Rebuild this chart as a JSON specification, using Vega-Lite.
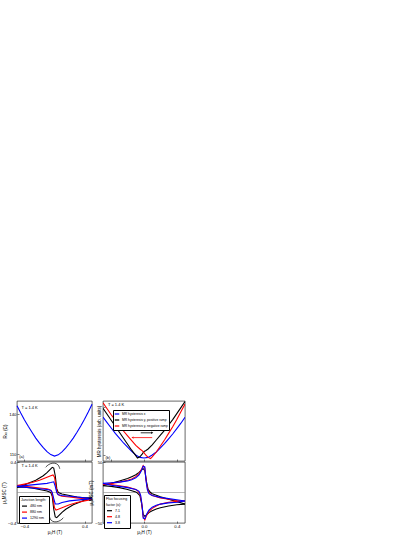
{
  "$schema": "https://vega.github.io/schema/vega-lite/v6.json",
  "padding": {"left": 0, "top": 400, "right": 5, "bottom": 2},
  "background": "white",
  "config": {
    "font": "Liberation Sans",
    "view": {"stroke": "black", "strokeWidth": 0.6},
    "axis": {"grid": false, "domain": false, "tickSize": -2, "tickColor": "black", "tickWidth": 0.5, "labelFontSize": 4.3, "labelColor": "black", "titleFontSize": 4.5, "titleColor": "black", "titleFontWeight": "normal", "labelPadding": 3, "titlePadding": 1.5, "labelOverlap": false, "labelFlush": false, "labelBound": false},
    "legend": {"labelFontSize": 4, "titleFontSize": 4, "titleFontWeight": "normal", "symbolType": "stroke", "symbolSize": 30, "symbolStrokeWidth": 1.2, "rowPadding": 0, "titlePadding": 1, "padding": 2, "fillColor": "white", "strokeColor": "black", "labelColor": "black", "titleColor": "black", "symbolOffset": 0, "labelOffset": 2}
  },
  "datasets": {
    "pa": [
      {"h": -0.5, "r": 146.5}, {"h": -0.45, "r": 141}, {"h": -0.4, "r": 135.8}, {"h": -0.35, "r": 131}, {"h": -0.3, "r": 126.5}, {"h": -0.25, "r": 122.2}, {"h": -0.2, "r": 118.4}, {"h": -0.15, "r": 115}, {"h": -0.1, "r": 112}, {"h": -0.05, "r": 109.8}, {"h": 0, "r": 108.7}, {"h": 0.05, "r": 109.6}, {"h": 0.1, "r": 111.8}, {"h": 0.15, "r": 114.8}, {"h": 0.2, "r": 118.3}, {"h": 0.25, "r": 122.2}, {"h": 0.3, "r": 126.6}, {"h": 0.35, "r": 131.3}, {"h": 0.4, "r": 136.3}, {"h": 0.45, "r": 141.7}, {"h": 0.5, "r": 147.5}
    ],
    "pb": [
      {"h": -0.5, "v": 0.73, "s": "MR hysteresis x"}, {"h": -0.45, "v": 0.64, "s": "MR hysteresis x"}, {"h": -0.4, "v": 0.55, "s": "MR hysteresis x"}, {"h": -0.35, "v": 0.46, "s": "MR hysteresis x"}, {"h": -0.3, "v": 0.38, "s": "MR hysteresis x"}, {"h": -0.25, "v": 0.3, "s": "MR hysteresis x"}, {"h": -0.2, "v": 0.23, "s": "MR hysteresis x"}, {"h": -0.15, "v": 0.16, "s": "MR hysteresis x"}, {"h": -0.1, "v": 0.1, "s": "MR hysteresis x"}, {"h": -0.05, "v": 0.06, "s": "MR hysteresis x"}, {"h": 0, "v": 0.05, "s": "MR hysteresis x"}, {"h": 0.05, "v": 0.06, "s": "MR hysteresis x"}, {"h": 0.1, "v": 0.1, "s": "MR hysteresis x"}, {"h": 0.15, "v": 0.15, "s": "MR hysteresis x"}, {"h": 0.2, "v": 0.22, "s": "MR hysteresis x"}, {"h": 0.25, "v": 0.29, "s": "MR hysteresis x"}, {"h": 0.3, "v": 0.37, "s": "MR hysteresis x"}, {"h": 0.35, "v": 0.45, "s": "MR hysteresis x"}, {"h": 0.4, "v": 0.54, "s": "MR hysteresis x"}, {"h": 0.45, "v": 0.63, "s": "MR hysteresis x"}, {"h": 0.5, "v": 0.73, "s": "MR hysteresis x"},
      {"h": -0.5, "v": 0.88, "s": "MR hysteresis y, positive ramp"}, {"h": -0.45, "v": 0.78, "s": "MR hysteresis y, positive ramp"}, {"h": -0.4, "v": 0.68, "s": "MR hysteresis y, positive ramp"}, {"h": -0.35, "v": 0.58, "s": "MR hysteresis y, positive ramp"}, {"h": -0.3, "v": 0.48, "s": "MR hysteresis y, positive ramp"}, {"h": -0.25, "v": 0.38, "s": "MR hysteresis y, positive ramp"}, {"h": -0.2, "v": 0.28, "s": "MR hysteresis y, positive ramp"}, {"h": -0.15, "v": 0.18, "s": "MR hysteresis y, positive ramp"}, {"h": -0.1, "v": 0.09, "s": "MR hysteresis y, positive ramp"}, {"h": -0.08, "v": 0.05, "s": "MR hysteresis y, positive ramp"}, {"h": -0.05, "v": 0.07, "s": "MR hysteresis y, positive ramp"}, {"h": -0.02, "v": 0.12, "s": "MR hysteresis y, positive ramp"}, {"h": 0, "v": 0.16, "s": "MR hysteresis y, positive ramp"}, {"h": 0.02, "v": 0.17, "s": "MR hysteresis y, positive ramp"}, {"h": 0.05, "v": 0.2, "s": "MR hysteresis y, positive ramp"}, {"h": 0.1, "v": 0.27, "s": "MR hysteresis y, positive ramp"}, {"h": 0.15, "v": 0.35, "s": "MR hysteresis y, positive ramp"}, {"h": 0.2, "v": 0.43, "s": "MR hysteresis y, positive ramp"}, {"h": 0.25, "v": 0.51, "s": "MR hysteresis y, positive ramp"}, {"h": 0.3, "v": 0.6, "s": "MR hysteresis y, positive ramp"}, {"h": 0.35, "v": 0.69, "s": "MR hysteresis y, positive ramp"}, {"h": 0.4, "v": 0.79, "s": "MR hysteresis y, positive ramp"}, {"h": 0.45, "v": 0.89, "s": "MR hysteresis y, positive ramp"}, {"h": 0.5, "v": 0.99, "s": "MR hysteresis y, positive ramp"},
      {"h": -0.5, "v": 0.97, "s": "MR hysteresis y, negative ramp"}, {"h": -0.45, "v": 0.87, "s": "MR hysteresis y, negative ramp"}, {"h": -0.4, "v": 0.77, "s": "MR hysteresis y, negative ramp"}, {"h": -0.35, "v": 0.68, "s": "MR hysteresis y, negative ramp"}, {"h": -0.3, "v": 0.59, "s": "MR hysteresis y, negative ramp"}, {"h": -0.25, "v": 0.5, "s": "MR hysteresis y, negative ramp"}, {"h": -0.2, "v": 0.42, "s": "MR hysteresis y, negative ramp"}, {"h": -0.15, "v": 0.34, "s": "MR hysteresis y, negative ramp"}, {"h": -0.1, "v": 0.26, "s": "MR hysteresis y, negative ramp"}, {"h": -0.05, "v": 0.2, "s": "MR hysteresis y, negative ramp"}, {"h": -0.02, "v": 0.17, "s": "MR hysteresis y, negative ramp"}, {"h": 0, "v": 0.14, "s": "MR hysteresis y, negative ramp"}, {"h": 0.02, "v": 0.1, "s": "MR hysteresis y, negative ramp"}, {"h": 0.05, "v": 0.06, "s": "MR hysteresis y, negative ramp"}, {"h": 0.08, "v": 0.04, "s": "MR hysteresis y, negative ramp"}, {"h": 0.1, "v": 0.07, "s": "MR hysteresis y, negative ramp"}, {"h": 0.15, "v": 0.15, "s": "MR hysteresis y, negative ramp"}, {"h": 0.2, "v": 0.25, "s": "MR hysteresis y, negative ramp"}, {"h": 0.25, "v": 0.35, "s": "MR hysteresis y, negative ramp"}, {"h": 0.3, "v": 0.46, "s": "MR hysteresis y, negative ramp"}, {"h": 0.35, "v": 0.57, "s": "MR hysteresis y, negative ramp"}, {"h": 0.4, "v": 0.69, "s": "MR hysteresis y, negative ramp"}, {"h": 0.45, "v": 0.82, "s": "MR hysteresis y, negative ramp"}, {"h": 0.5, "v": 0.95, "s": "MR hysteresis y, negative ramp"}
    ],
    "pc": [
      {"h": -0.5, "m": 0.07, "s": "480 nm", "b": "A"}, {"h": -0.45, "m": 0.08, "s": "480 nm", "b": "A"}, {"h": -0.4, "m": 0.1, "s": "480 nm", "b": "A"}, {"h": -0.35, "m": 0.12, "s": "480 nm", "b": "A"}, {"h": -0.3, "m": 0.14, "s": "480 nm", "b": "A"}, {"h": -0.25, "m": 0.16, "s": "480 nm", "b": "A"}, {"h": -0.2, "m": 0.19, "s": "480 nm", "b": "A"}, {"h": -0.15, "m": 0.22, "s": "480 nm", "b": "A"}, {"h": -0.1, "m": 0.26, "s": "480 nm", "b": "A"}, {"h": -0.06, "m": 0.3, "s": "480 nm", "b": "A"}, {"h": -0.03, "m": 0.33, "s": "480 nm", "b": "A"}, {"h": -0.01, "m": 0.32, "s": "480 nm", "b": "A"}, {"h": 0.01, "m": 0.22, "s": "480 nm", "b": "A"}, {"h": 0.03, "m": 0.05, "s": "480 nm", "b": "A"}, {"h": 0.05, "m": 0.0, "s": "480 nm", "b": "A"}, {"h": 0.1, "m": -0.02, "s": "480 nm", "b": "A"}, {"h": 0.15, "m": -0.03, "s": "480 nm", "b": "A"}, {"h": 0.2, "m": -0.04, "s": "480 nm", "b": "A"}, {"h": 0.3, "m": -0.06, "s": "480 nm", "b": "A"}, {"h": 0.4, "m": -0.07, "s": "480 nm", "b": "A"}, {"h": 0.5, "m": -0.07, "s": "480 nm", "b": "A"},
      {"h": -0.5, "m": 0.07, "s": "480 nm", "b": "B"}, {"h": -0.4, "m": 0.07, "s": "480 nm", "b": "B"}, {"h": -0.3, "m": 0.06, "s": "480 nm", "b": "B"}, {"h": -0.2, "m": 0.04, "s": "480 nm", "b": "B"}, {"h": -0.15, "m": 0.03, "s": "480 nm", "b": "B"}, {"h": -0.1, "m": 0.02, "s": "480 nm", "b": "B"}, {"h": -0.05, "m": 0.0, "s": "480 nm", "b": "B"}, {"h": -0.03, "m": -0.05, "s": "480 nm", "b": "B"}, {"h": -0.01, "m": -0.22, "s": "480 nm", "b": "B"}, {"h": 0.01, "m": -0.32, "s": "480 nm", "b": "B"}, {"h": 0.03, "m": -0.33, "s": "480 nm", "b": "B"}, {"h": 0.06, "m": -0.3, "s": "480 nm", "b": "B"}, {"h": 0.1, "m": -0.26, "s": "480 nm", "b": "B"}, {"h": 0.15, "m": -0.22, "s": "480 nm", "b": "B"}, {"h": 0.2, "m": -0.19, "s": "480 nm", "b": "B"}, {"h": 0.25, "m": -0.16, "s": "480 nm", "b": "B"}, {"h": 0.3, "m": -0.14, "s": "480 nm", "b": "B"}, {"h": 0.35, "m": -0.12, "s": "480 nm", "b": "B"}, {"h": 0.4, "m": -0.1, "s": "480 nm", "b": "B"}, {"h": 0.45, "m": -0.08, "s": "480 nm", "b": "B"}, {"h": 0.5, "m": -0.07, "s": "480 nm", "b": "B"},
      {"h": -0.5, "m": 0.09, "s": "880 nm", "b": "A"}, {"h": -0.4, "m": 0.11, "s": "880 nm", "b": "A"}, {"h": -0.3, "m": 0.13, "s": "880 nm", "b": "A"}, {"h": -0.2, "m": 0.16, "s": "880 nm", "b": "A"}, {"h": -0.15, "m": 0.18, "s": "880 nm", "b": "A"}, {"h": -0.1, "m": 0.2, "s": "880 nm", "b": "A"}, {"h": -0.05, "m": 0.22, "s": "880 nm", "b": "A"}, {"h": -0.02, "m": 0.23, "s": "880 nm", "b": "A"}, {"h": 0.0, "m": 0.2, "s": "880 nm", "b": "A"}, {"h": 0.02, "m": 0.08, "s": "880 nm", "b": "A"}, {"h": 0.04, "m": -0.02, "s": "880 nm", "b": "A"}, {"h": 0.07, "m": -0.04, "s": "880 nm", "b": "A"}, {"h": 0.1, "m": -0.05, "s": "880 nm", "b": "A"}, {"h": 0.2, "m": -0.06, "s": "880 nm", "b": "A"}, {"h": 0.3, "m": -0.07, "s": "880 nm", "b": "A"}, {"h": 0.4, "m": -0.08, "s": "880 nm", "b": "A"}, {"h": 0.5, "m": -0.09, "s": "880 nm", "b": "A"},
      {"h": -0.5, "m": 0.09, "s": "880 nm", "b": "B"}, {"h": -0.4, "m": 0.08, "s": "880 nm", "b": "B"}, {"h": -0.3, "m": 0.07, "s": "880 nm", "b": "B"}, {"h": -0.2, "m": 0.06, "s": "880 nm", "b": "B"}, {"h": -0.1, "m": 0.05, "s": "880 nm", "b": "B"}, {"h": -0.07, "m": 0.04, "s": "880 nm", "b": "B"}, {"h": -0.04, "m": 0.02, "s": "880 nm", "b": "B"}, {"h": -0.02, "m": -0.08, "s": "880 nm", "b": "B"}, {"h": 0.0, "m": -0.2, "s": "880 nm", "b": "B"}, {"h": 0.02, "m": -0.23, "s": "880 nm", "b": "B"}, {"h": 0.05, "m": -0.22, "s": "880 nm", "b": "B"}, {"h": 0.1, "m": -0.2, "s": "880 nm", "b": "B"}, {"h": 0.15, "m": -0.18, "s": "880 nm", "b": "B"}, {"h": 0.2, "m": -0.16, "s": "880 nm", "b": "B"}, {"h": 0.3, "m": -0.13, "s": "880 nm", "b": "B"}, {"h": 0.4, "m": -0.11, "s": "880 nm", "b": "B"}, {"h": 0.5, "m": -0.09, "s": "880 nm", "b": "B"},
      {"h": -0.5, "m": 0.08, "s": "1290 nm", "b": "A"}, {"h": -0.4, "m": 0.09, "s": "1290 nm", "b": "A"}, {"h": -0.3, "m": 0.1, "s": "1290 nm", "b": "A"}, {"h": -0.2, "m": 0.11, "s": "1290 nm", "b": "A"}, {"h": -0.1, "m": 0.12, "s": "1290 nm", "b": "A"}, {"h": -0.05, "m": 0.13, "s": "1290 nm", "b": "A"}, {"h": -0.01, "m": 0.14, "s": "1290 nm", "b": "A"}, {"h": 0.01, "m": 0.08, "s": "1290 nm", "b": "A"}, {"h": 0.03, "m": 0.0, "s": "1290 nm", "b": "A"}, {"h": 0.05, "m": -0.03, "s": "1290 nm", "b": "A"}, {"h": 0.1, "m": -0.04, "s": "1290 nm", "b": "A"}, {"h": 0.2, "m": -0.05, "s": "1290 nm", "b": "A"}, {"h": 0.3, "m": -0.06, "s": "1290 nm", "b": "A"}, {"h": 0.4, "m": -0.07, "s": "1290 nm", "b": "A"}, {"h": 0.5, "m": -0.08, "s": "1290 nm", "b": "A"},
      {"h": -0.5, "m": 0.08, "s": "1290 nm", "b": "B"}, {"h": -0.4, "m": 0.07, "s": "1290 nm", "b": "B"}, {"h": -0.3, "m": 0.06, "s": "1290 nm", "b": "B"}, {"h": -0.2, "m": 0.05, "s": "1290 nm", "b": "B"}, {"h": -0.1, "m": 0.04, "s": "1290 nm", "b": "B"}, {"h": -0.05, "m": 0.03, "s": "1290 nm", "b": "B"}, {"h": -0.03, "m": 0.0, "s": "1290 nm", "b": "B"}, {"h": -0.01, "m": -0.08, "s": "1290 nm", "b": "B"}, {"h": 0.01, "m": -0.15, "s": "1290 nm", "b": "B"}, {"h": 0.05, "m": -0.15, "s": "1290 nm", "b": "B"}, {"h": 0.1, "m": -0.13, "s": "1290 nm", "b": "B"}, {"h": 0.2, "m": -0.11, "s": "1290 nm", "b": "B"}, {"h": 0.3, "m": -0.1, "s": "1290 nm", "b": "B"}, {"h": 0.4, "m": -0.09, "s": "1290 nm", "b": "B"}, {"h": 0.5, "m": -0.08, "s": "1290 nm", "b": "B"}
    ],
    "pd": [
      {"h": -0.5, "m": 11, "s": "7.1", "b": "A"}, {"h": -0.4, "m": 15, "s": "7.1", "b": "A"}, {"h": -0.3, "m": 19, "s": "7.1", "b": "A"}, {"h": -0.2, "m": 23, "s": "7.1", "b": "A"}, {"h": -0.15, "m": 26, "s": "7.1", "b": "A"}, {"h": -0.1, "m": 29, "s": "7.1", "b": "A"}, {"h": -0.06, "m": 33, "s": "7.1", "b": "A"}, {"h": -0.03, "m": 37, "s": "7.1", "b": "A"}, {"h": -0.01, "m": 39, "s": "7.1", "b": "A"}, {"h": 0.01, "m": 36, "s": "7.1", "b": "A"}, {"h": 0.03, "m": 18, "s": "7.1", "b": "A"}, {"h": 0.05, "m": 5, "s": "7.1", "b": "A"}, {"h": 0.08, "m": 0, "s": "7.1", "b": "A"}, {"h": 0.1, "m": -2, "s": "7.1", "b": "A"}, {"h": 0.2, "m": -7, "s": "7.1", "b": "A"}, {"h": 0.3, "m": -11, "s": "7.1", "b": "A"}, {"h": 0.4, "m": -15, "s": "7.1", "b": "A"}, {"h": 0.5, "m": -19, "s": "7.1", "b": "A"},
      {"h": -0.5, "m": 11, "s": "7.1", "b": "B"}, {"h": -0.4, "m": 10, "s": "7.1", "b": "B"}, {"h": -0.3, "m": 8, "s": "7.1", "b": "B"}, {"h": -0.2, "m": 5, "s": "7.1", "b": "B"}, {"h": -0.1, "m": 1, "s": "7.1", "b": "B"}, {"h": -0.08, "m": -1, "s": "7.1", "b": "B"}, {"h": -0.05, "m": -5, "s": "7.1", "b": "B"}, {"h": -0.03, "m": -18, "s": "7.1", "b": "B"}, {"h": -0.01, "m": -36, "s": "7.1", "b": "B"}, {"h": 0.01, "m": -39, "s": "7.1", "b": "B"}, {"h": 0.03, "m": -37, "s": "7.1", "b": "B"}, {"h": 0.06, "m": -33, "s": "7.1", "b": "B"}, {"h": 0.1, "m": -30, "s": "7.1", "b": "B"}, {"h": 0.15, "m": -27, "s": "7.1", "b": "B"}, {"h": 0.2, "m": -25, "s": "7.1", "b": "B"}, {"h": 0.3, "m": -22, "s": "7.1", "b": "B"}, {"h": 0.4, "m": -20, "s": "7.1", "b": "B"}, {"h": 0.5, "m": -19, "s": "7.1", "b": "B"},
      {"h": -0.5, "m": 13, "s": "4.8", "b": "A"}, {"h": -0.4, "m": 15, "s": "4.8", "b": "A"}, {"h": -0.3, "m": 17, "s": "4.8", "b": "A"}, {"h": -0.2, "m": 20, "s": "4.8", "b": "A"}, {"h": -0.15, "m": 22, "s": "4.8", "b": "A"}, {"h": -0.1, "m": 26, "s": "4.8", "b": "A"}, {"h": -0.06, "m": 31, "s": "4.8", "b": "A"}, {"h": -0.03, "m": 38, "s": "4.8", "b": "A"}, {"h": -0.01, "m": 44, "s": "4.8", "b": "A"}, {"h": 0.01, "m": 40, "s": "4.8", "b": "A"}, {"h": 0.03, "m": 15, "s": "4.8", "b": "A"}, {"h": 0.05, "m": 2, "s": "4.8", "b": "A"}, {"h": 0.08, "m": -3, "s": "4.8", "b": "A"}, {"h": 0.1, "m": -5, "s": "4.8", "b": "A"}, {"h": 0.2, "m": -9, "s": "4.8", "b": "A"}, {"h": 0.3, "m": -11, "s": "4.8", "b": "A"}, {"h": 0.4, "m": -13, "s": "4.8", "b": "A"}, {"h": 0.5, "m": -14, "s": "4.8", "b": "A"},
      {"h": -0.5, "m": 13, "s": "4.8", "b": "B"}, {"h": -0.4, "m": 13, "s": "4.8", "b": "B"}, {"h": -0.3, "m": 11, "s": "4.8", "b": "B"}, {"h": -0.2, "m": 9, "s": "4.8", "b": "B"}, {"h": -0.1, "m": 5, "s": "4.8", "b": "B"}, {"h": -0.08, "m": 3, "s": "4.8", "b": "B"}, {"h": -0.05, "m": -2, "s": "4.8", "b": "B"}, {"h": -0.03, "m": -15, "s": "4.8", "b": "B"}, {"h": -0.01, "m": -40, "s": "4.8", "b": "B"}, {"h": 0.01, "m": -45, "s": "4.8", "b": "B"}, {"h": 0.03, "m": -38, "s": "4.8", "b": "B"}, {"h": 0.06, "m": -31, "s": "4.8", "b": "B"}, {"h": 0.1, "m": -26, "s": "4.8", "b": "B"}, {"h": 0.15, "m": -22, "s": "4.8", "b": "B"}, {"h": 0.2, "m": -19, "s": "4.8", "b": "B"}, {"h": 0.3, "m": -16, "s": "4.8", "b": "B"}, {"h": 0.4, "m": -15, "s": "4.8", "b": "B"}, {"h": 0.5, "m": -14, "s": "4.8", "b": "B"},
      {"h": -0.5, "m": 15, "s": "3.8", "b": "A"}, {"h": -0.4, "m": 16, "s": "3.8", "b": "A"}, {"h": -0.3, "m": 17, "s": "3.8", "b": "A"}, {"h": -0.2, "m": 19, "s": "3.8", "b": "A"}, {"h": -0.15, "m": 21, "s": "3.8", "b": "A"}, {"h": -0.1, "m": 24, "s": "3.8", "b": "A"}, {"h": -0.06, "m": 29, "s": "3.8", "b": "A"}, {"h": -0.03, "m": 36, "s": "3.8", "b": "A"}, {"h": -0.01, "m": 43, "s": "3.8", "b": "A"}, {"h": 0.01, "m": 42, "s": "3.8", "b": "A"}, {"h": 0.02, "m": 25, "s": "3.8", "b": "A"}, {"h": 0.04, "m": 5, "s": "3.8", "b": "A"}, {"h": 0.06, "m": -2, "s": "3.8", "b": "A"}, {"h": 0.1, "m": -5, "s": "3.8", "b": "A"}, {"h": 0.2, "m": -8, "s": "3.8", "b": "A"}, {"h": 0.3, "m": -10, "s": "3.8", "b": "A"}, {"h": 0.4, "m": -12, "s": "3.8", "b": "A"}, {"h": 0.5, "m": -14, "s": "3.8", "b": "A"},
      {"h": -0.5, "m": 15, "s": "3.8", "b": "B"}, {"h": -0.4, "m": 12, "s": "3.8", "b": "B"}, {"h": -0.3, "m": 10, "s": "3.8", "b": "B"}, {"h": -0.2, "m": 8, "s": "3.8", "b": "B"}, {"h": -0.1, "m": 5, "s": "3.8", "b": "B"}, {"h": -0.06, "m": 2, "s": "3.8", "b": "B"}, {"h": -0.04, "m": -5, "s": "3.8", "b": "B"}, {"h": -0.02, "m": -25, "s": "3.8", "b": "B"}, {"h": -0.01, "m": -42, "s": "3.8", "b": "B"}, {"h": 0.01, "m": -43, "s": "3.8", "b": "B"}, {"h": 0.03, "m": -36, "s": "3.8", "b": "B"}, {"h": 0.06, "m": -29, "s": "3.8", "b": "B"}, {"h": 0.1, "m": -24, "s": "3.8", "b": "B"}, {"h": 0.15, "m": -21, "s": "3.8", "b": "B"}, {"h": 0.2, "m": -19, "s": "3.8", "b": "B"}, {"h": 0.3, "m": -17, "s": "3.8", "b": "B"}, {"h": 0.4, "m": -16, "s": "3.8", "b": "B"}, {"h": 0.5, "m": -14, "s": "3.8", "b": "B"}
    ]
  },
  "columns": 2,
  "spacing": {"row": 1, "column": 11},
  "bounds": "flush",
  "resolve": {"scale": {"x": "independent", "y": "independent", "color": "independent"}, "legend": {"color": "independent"}},
  "concat": [
    {
      "width": 75, "height": 60,
      "layer": [
        {
          "data": {"name": "pa"},
          "mark": {"type": "line", "color": "#0000ff", "strokeWidth": 1.1},
          "encoding": {
            "x": {"field": "h", "type": "quantitative", "scale": {"domain": [-0.5, 0.5]}, "axis": {"labels": false, "title": null, "values": [-0.4, -0.2, 0, 0.2, 0.4]}},
            "y": {"field": "r", "type": "quantitative", "scale": {"domain": [106, 148]}, "axis": {"values": [110, 120, 130, 140], "title": "Rₓₓ (Ω)", "labelOverlap": false}}
          }
        },
        {
          "data": {"values": [{"h": -0.44, "r": 144.5, "t": "T = 1.4 K"}, {"h": -0.47, "r": 108, "t": "(a)"}]},
          "mark": {"type": "text", "align": "left", "baseline": "middle", "fontSize": 4, "color": "black"},
          "encoding": {"x": {"field": "h", "type": "quantitative"}, "y": {"field": "r", "type": "quantitative"}, "text": {"field": "t"}}
        }
      ]
    },
    {
      "width": 82, "height": 60,
      "layer": [
        {
          "data": {"name": "pb"},
          "mark": {"type": "line", "strokeWidth": 1.1, "clip": true},
          "encoding": {
            "x": {"field": "h", "type": "quantitative", "scale": {"domain": [-0.5, 0.5]}, "axis": {"labels": false, "title": null, "values": [-0.4, -0.2, 0, 0.2, 0.4]}},
            "y": {"field": "v", "type": "quantitative", "scale": {"domain": [0, 1]}, "axis": {"labels": false, "values": [0.1, 0.3, 0.5, 0.7, 0.9], "title": "MR hysteresis (arb. units)"}},
            "color": {"field": "s", "type": "nominal", "scale": {"domain": ["MR hysteresis x", "MR hysteresis y, positive ramp", "MR hysteresis y, negative ramp"], "range": ["#0000ff", "#000000", "#ff0000"]}, "legend": {"title": null, "orient": "none", "legendX": 10, "legendY": 9, "labelFontSize": 3.3, "padding": 1, "symbolSize": 20, "strokeColor": null, "fillColor": null}}
          }
        },
        {
          "data": {"values": [{"h": -0.04, "h2": 0.09, "v": 0.47}]},
          "mark": {"type": "rule", "color": "black", "strokeWidth": 0.8},
          "encoding": {"x": {"field": "h", "type": "quantitative"}, "x2": {"field": "h2"}, "y": {"field": "v", "type": "quantitative"}}
        },
        {
          "data": {"values": [{"h": 0.1, "v": 0.47}]},
          "mark": {"type": "point", "shape": "triangle-right", "filled": true, "color": "black", "size": 6, "opacity": 1},
          "encoding": {"x": {"field": "h", "type": "quantitative"}, "y": {"field": "v", "type": "quantitative"}}
        },
        {
          "data": {"values": [{"h": -0.13, "h2": 0.1, "v": 0.39}]},
          "mark": {"type": "rule", "color": "#ff0000", "strokeWidth": 0.8},
          "encoding": {"x": {"field": "h", "type": "quantitative"}, "x2": {"field": "h2"}, "y": {"field": "v", "type": "quantitative"}}
        },
        {
          "data": {"values": [{"h": -0.14, "v": 0.39}]},
          "mark": {"type": "point", "shape": "triangle-left", "filled": true, "color": "#ff0000", "size": 6, "opacity": 1},
          "encoding": {"x": {"field": "h", "type": "quantitative"}, "y": {"field": "v", "type": "quantitative"}}
        },
        {
          "data": {"values": [{"h": -0.44, "v": 0.93, "t": "T = 1.4 K"}, {"h": -0.47, "v": 0.05, "t": "(b)"}]},
          "mark": {"type": "text", "align": "left", "baseline": "middle", "fontSize": 4, "color": "black"},
          "encoding": {"x": {"field": "h", "type": "quantitative"}, "y": {"field": "v", "type": "quantitative"}, "text": {"field": "t"}}
        }
      ]
    },
    {
      "width": 75, "height": 61,
      "layer": [
        {
          "data": {"values": [{"z": 0}]},
          "mark": {"type": "rule", "color": "#888888", "strokeWidth": 0.6},
          "encoding": {"y": {"field": "z", "type": "quantitative"}}
        },
        {
          "data": {"name": "pc"},
          "mark": {"type": "line", "strokeWidth": 1.1},
          "encoding": {
            "x": {"field": "h", "type": "quantitative", "scale": {"domain": [-0.5, 0.5]}, "axis": {"values": [-0.4, -0.2, 0, 0.2, 0.4], "format": ".1f", "title": "μ₀H (T)", "labelOverlap": false}},
            "y": {"field": "m", "type": "quantitative", "scale": {"domain": [-0.4, 0.4]}, "axis": {"values": [-0.4, -0.2, 0, 0.2, 0.4], "format": ".1f", "title": "μ₀MSC (T)", "labelOverlap": false}},
            "color": {"field": "s", "type": "nominal", "scale": {"domain": ["480 nm", "880 nm", "1290 nm"], "range": ["#000000", "#ff0000", "#0000ff"]}, "legend": {"title": "Junction length:", "orient": "none", "legendX": 2, "legendY": 34, "labelFontSize": 3.6, "titleFontSize": 3.6, "symbolSize": 25}},
            "detail": {"field": "b"}
          }
        },
        {
          "data": {"values": [{"h": -0.12, "m": 0.33}, {"h": -0.08, "m": 0.37}, {"h": -0.02, "m": 0.39}, {"h": 0.03, "m": 0.38}, {"h": 0.06, "m": 0.35}, {"h": 0.07, "m": 0.31}]},
          "mark": {"type": "line", "color": "black", "strokeWidth": 0.7, "interpolate": "basis"},
          "encoding": {"x": {"field": "h", "type": "quantitative"}, "y": {"field": "m", "type": "quantitative"}}
        },
        {
          "data": {"values": [{"h": -0.07, "m": -0.3}, {"h": -0.06, "m": -0.35}, {"h": -0.03, "m": -0.38}, {"h": 0.02, "m": -0.39}, {"h": 0.08, "m": -0.37}, {"h": 0.12, "m": -0.33}]},
          "mark": {"type": "line", "color": "black", "strokeWidth": 0.7, "interpolate": "basis"},
          "encoding": {"x": {"field": "h", "type": "quantitative"}, "y": {"field": "m", "type": "quantitative"}}
        },
        {
          "data": {"values": [{"h": -0.44, "m": 0.35, "t": "T = 1.4 K"}, {"h": -0.47, "m": -0.37, "t": "(c)"}]},
          "mark": {"type": "text", "align": "left", "baseline": "middle", "fontSize": 4, "color": "black"},
          "encoding": {"x": {"field": "h", "type": "quantitative"}, "y": {"field": "m", "type": "quantitative"}, "text": {"field": "t"}}
        }
      ]
    },
    {
      "width": 82, "height": 61,
      "layer": [
        {
          "data": {"values": [{"z": 0}]},
          "mark": {"type": "rule", "color": "#888888", "strokeWidth": 0.6},
          "encoding": {"y": {"field": "z", "type": "quantitative"}}
        },
        {
          "data": {"name": "pd"},
          "mark": {"type": "line", "strokeWidth": 1.1},
          "encoding": {
            "x": {"field": "h", "type": "quantitative", "scale": {"domain": [-0.5, 0.5]}, "axis": {"values": [-0.4, -0.2, 0, 0.2, 0.4], "format": ".1f", "title": "μ₀H (T)", "labelOverlap": false}},
            "y": {"field": "m", "type": "quantitative", "scale": {"domain": [-50, 50]}, "axis": {"values": [-50, -25, 0, 25, 50], "title": "μ₀MSC (mT)", "labelOverlap": false}},
            "color": {"field": "s", "type": "nominal", "scale": {"domain": ["7.1", "4.8", "3.8"], "range": ["#000000", "#ff0000", "#0000ff"]}, "legend": {"title": ["Flux focusing", "factor (κ):"], "orient": "none", "legendX": 1, "legendY": 33, "labelFontSize": 3.6, "titleFontSize": 3.6, "symbolSize": 25}},
            "detail": {"field": "b"}
          }
        },
        {
          "data": {"values": [{"h": -0.47, "m": -46, "t": "(d)"}]},
          "mark": {"type": "text", "align": "left", "baseline": "middle", "fontSize": 4, "color": "black"},
          "encoding": {"x": {"field": "h", "type": "quantitative"}, "y": {"field": "m", "type": "quantitative"}, "text": {"field": "t"}}
        }
      ]
    }
  ]
}
